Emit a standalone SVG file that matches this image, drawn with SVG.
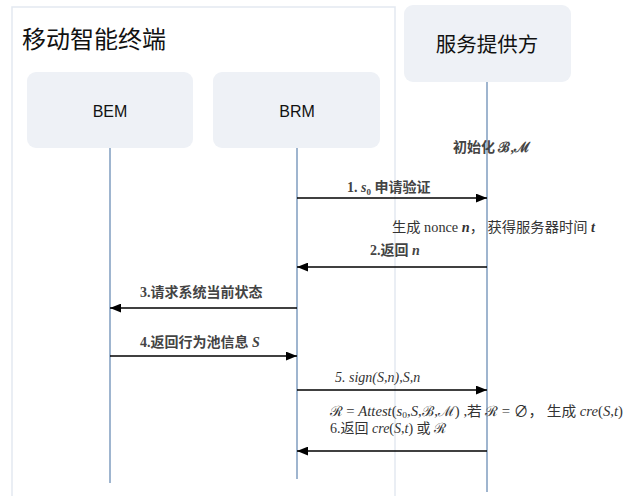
<svg xmlns="http://www.w3.org/2000/svg" width="640" height="496" viewBox="0 0 640 496">
<defs>
<style>
.box{fill:#eef1f6;stroke:none}
.life{stroke:#7f9cbf;stroke-width:1.5;fill:none}
.msg{stroke:#000;stroke-width:1.5;fill:none}
.hdr{font-family:"Noto Sans CJK SC","Noto Sans",sans-serif;fill:#111}
.nm{font-family:"Liberation Sans","Noto Sans",sans-serif;font-size:16px;fill:#111;text-anchor:middle}
.lbl{font-family:"Liberation Serif","Noto Sans CJK SC",serif;font-size:14px;fill:#444;font-weight:bold}
.sm{font-size:14px;font-weight:normal;fill:#333}
.it{font-style:italic}
</style>
<marker id="ah" viewBox="0 0 10 8" refX="10" refY="4" markerWidth="11" markerHeight="9" markerUnits="userSpaceOnUse" orient="auto">
<path d="M0,0 L10,4 L0,8 Z" fill="#000"/>
</marker>
</defs>
<rect width="640" height="496" fill="#fff"/>
<g id="terminal">
<rect x="12" y="7" width="383" height="500" fill="#fff" stroke="#e3e9f1" stroke-width="1.5"/>
<text class="hdr" x="22" y="48" font-size="24">移动智能终端</text>
</g>
<g id="BEM">
<rect class="box" x="27" y="72" width="166" height="76" rx="9"/>
<text class="nm" x="110" y="117">BEM</text>
<line class="life" x1="110" y1="148" x2="110" y2="483"/>
</g>
<g id="BRM">
<rect class="box" x="213" y="72" width="167" height="76" rx="9"/>
<text class="nm" x="297" y="117">BRM</text>
<line class="life" x1="297" y1="148" x2="297" y2="479"/>
</g>
<g id="provider">
<rect class="box" x="404" y="5" width="167" height="77" rx="9"/>
<text class="hdr" x="487" y="52" font-size="20.5" text-anchor="middle">服务提供方</text>
<line class="life" x1="487" y1="82" x2="487" y2="492"/>
</g>
<g id="connectors">
<line class="msg" x1="297" y1="198" x2="487" y2="198" marker-end="url(#ah)"/>
<line class="msg" x1="487" y1="267" x2="297" y2="267" marker-end="url(#ah)"/>
<line class="msg" x1="297" y1="308" x2="110" y2="308" marker-end="url(#ah)"/>
<line class="msg" x1="110" y1="356" x2="297" y2="356" marker-end="url(#ah)"/>
<line class="msg" x1="297" y1="390" x2="487" y2="390" marker-end="url(#ah)"/>
<line class="msg" x1="487" y1="451" x2="297" y2="451" marker-end="url(#ah)"/>
</g>
<g id="labels">
<text class="lbl" x="453" y="152">初始化 ℬ,ℳ</text>
<text class="lbl" x="347" y="192">1. <tspan class="it">s</tspan><tspan font-size="9" dy="3">0</tspan><tspan dy="-3"> 申请验证</tspan></text>
<text class="lbl sm" x="392" y="232" textLength="203" lengthAdjust="spacingAndGlyphs">生成 nonce  <tspan class="it" font-weight="bold">n</tspan>， 获得服务器时间 <tspan class="it" font-weight="bold">t</tspan></text>
<text class="lbl" x="370" y="255">2.返回 <tspan class="it">n</tspan></text>
<text class="lbl" x="140" y="297">3.请求系统当前状态</text>
<text class="lbl" x="140" y="347">4.返回行为池信息 <tspan class="it">S</tspan></text>
<text class="lbl sm" x="335" y="382"><tspan class="it">5. sign(S,n),S,n</tspan></text>
<text class="lbl sm" x="330" y="416" textLength="293" lengthAdjust="spacingAndGlyphs">ℛ = <tspan class="it">Attest</tspan>(<tspan class="it">s</tspan><tspan font-size="9" dy="2">0</tspan><tspan dy="-2">,</tspan><tspan class="it">S</tspan>,ℬ,ℳ) ,若 ℛ = ∅， 生成 <tspan class="it">cre</tspan>(<tspan class="it">S</tspan>,<tspan class="it">t</tspan>)</text>
<text class="lbl sm" x="330" y="433">6.返回 <tspan class="it">cre</tspan>(<tspan class="it">S</tspan>,<tspan class="it">t</tspan>) 或 ℛ</text>
</g>
</svg>
